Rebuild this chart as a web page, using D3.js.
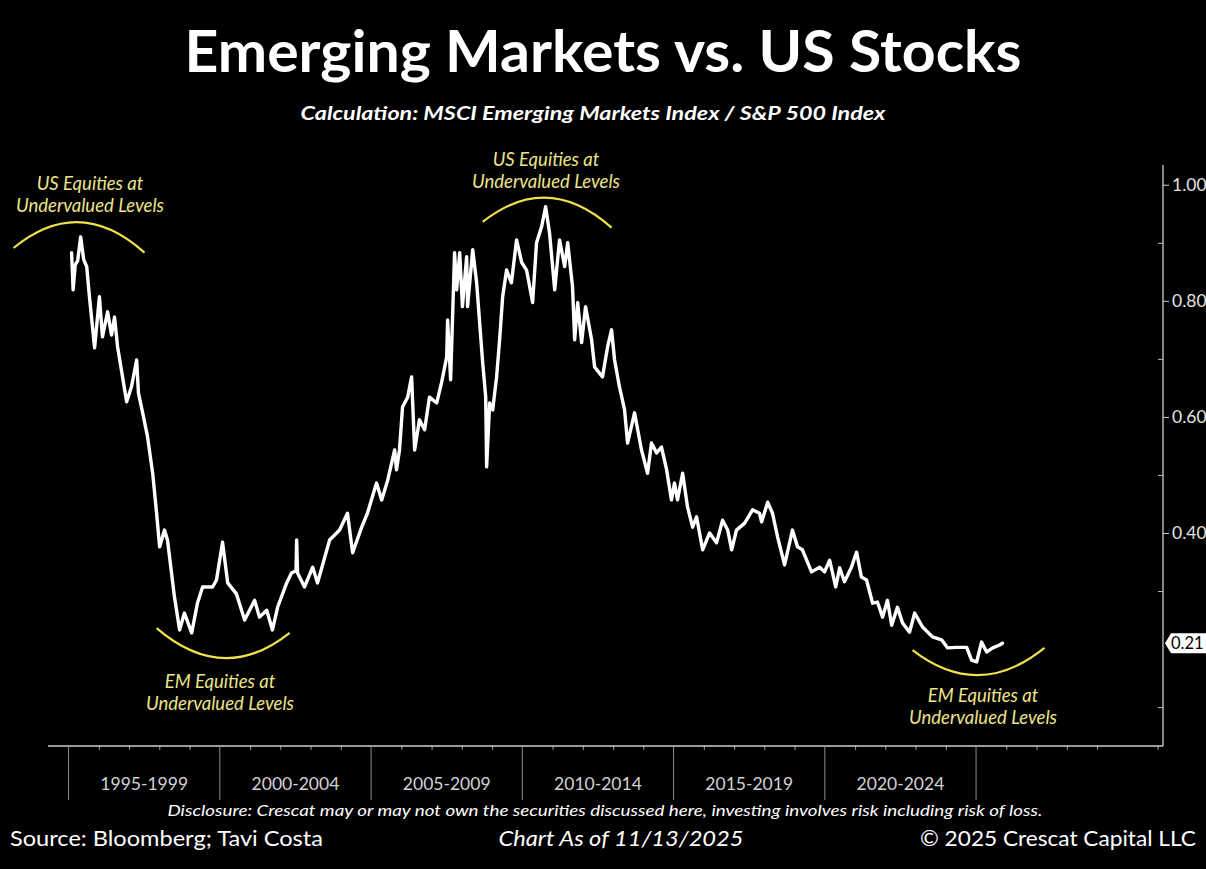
<!DOCTYPE html>
<html>
<head>
<meta charset="utf-8">
<script src="https://cdn.jsdelivr.net/npm/d3@7"></script>
<style>
  html, body { margin: 0; padding: 0; background: #000; }
  svg { display: block; }
</style>
</head>
<body>
<svg id="chart" width="1206" height="869"></svg>
<script>
// ---------------- DATA ----------------
const years = [
  1995.10,1995.15,1995.22,1995.30,1995.40,1995.50,1995.60,1995.69,1995.86,1996.02,
  1996.12,1996.29,1996.42,1996.52,1996.62,1996.92,1997.08,1997.25,1997.31,1997.45,
  1997.61,1997.78,1997.91,1998.01,1998.17,1998.27,1998.50,1998.67,1998.83,1999.07,
  1999.26,1999.43,1999.76,1999.89,2000.09,2000.26,2000.55,2000.82,2001.15,2001.31,
  2001.55,2001.74,2001.91,2002.21,2002.37,2002.52,2002.54,2002.57,2002.80,2003.07,
  2003.23,2003.63,2003.96,2004.22,2004.39,2004.69,2004.88,2005.18,2005.35,2005.55,
  2005.78,2005.84,2005.94,2006.04,2006.21,2006.34,2006.44,2006.60,2006.77,2006.93,
  2007.17,2007.33,2007.50,2007.53,2007.63,2007.76,2007.83,2007.93,2008.02,2008.16,
  2008.19,2008.36,2008.49,2008.59,2008.69,2008.79,2008.82,2008.92,2009.02,2009.15,
  2009.25,2009.35,2009.48,2009.64,2009.81,2009.98,2010.14,2010.34,2010.47,2010.64,
  2010.77,2010.90,2011.07,2011.23,2011.40,2011.50,2011.66,2011.73,2011.83,2011.96,
  2012.09,2012.29,2012.39,2012.65,2012.82,2012.95,2013.05,2013.21,2013.38,2013.48,
  2013.71,2013.94,2014.14,2014.27,2014.44,2014.60,2014.77,2014.93,2015.03,2015.13,
  2015.30,2015.46,2015.63,2015.76,2015.96,2016.19,2016.42,2016.62,2016.79,2016.92,
  2017.08,2017.35,2017.61,2017.84,2017.91,2018.11,2018.27,2018.44,2018.67,2018.93,
  2019.10,2019.26,2019.56,2019.83,2019.99,2020.16,2020.36,2020.49,2020.65,2020.88,
  2021.05,2021.21,2021.38,2021.58,2021.74,2021.91,2022.07,2022.21,2022.40,2022.57,
  2022.80,2022.97,2023.23,2023.56,2023.86,2024.06,2024.36,2024.69,2024.85,2025.02,
  2025.18,2025.35,2025.55,2025.78,2025.87
];
const ratio = [
  0.883,0.819,0.862,0.869,0.910,0.871,0.859,0.807,0.719,0.807,
  0.738,0.781,0.741,0.772,0.721,0.626,0.652,0.698,0.641,0.607,
  0.566,0.503,0.434,0.376,0.405,0.388,0.290,0.233,0.262,0.228,
  0.279,0.307,0.307,0.319,0.384,0.314,0.295,0.250,0.284,0.255,
  0.267,0.233,0.272,0.314,0.331,0.335,0.388,0.331,0.307,0.341,
  0.314,0.388,0.405,0.434,0.366,0.410,0.434,0.486,0.457,0.491,
  0.543,0.509,0.543,0.617,0.634,0.669,0.543,0.595,0.578,0.634,
  0.624,0.659,0.703,0.767,0.664,0.883,0.819,0.883,0.790,0.876,
  0.790,0.888,0.831,0.762,0.693,0.634,0.514,0.624,0.612,0.669,
  0.733,0.807,0.853,0.831,0.905,0.866,0.853,0.797,0.900,0.928,
  0.962,0.917,0.819,0.905,0.859,0.900,0.824,0.733,0.797,0.728,
  0.790,0.733,0.686,0.669,0.721,0.750,0.698,0.652,0.612,0.555,
  0.607,0.543,0.503,0.555,0.538,0.548,0.509,0.457,0.486,0.457,
  0.503,0.445,0.410,0.428,0.371,0.400,0.383,0.422,0.405,0.371,
  0.405,0.417,0.440,0.434,0.419,0.453,0.434,0.393,0.345,0.405,
  0.376,0.371,0.333,0.341,0.333,0.353,0.307,0.340,0.316,0.341,
  0.367,0.324,0.319,0.279,0.281,0.255,0.284,0.241,0.272,0.245,
  0.229,0.262,0.238,0.221,0.216,0.202,0.203,0.203,0.181,0.178,
  0.212,0.195,0.202,0.207,0.210
];
const lastValueLabel = "0.21";
const yMajorTicks = [0.40, 0.60, 0.80, 1.00];
const yMinorTicks = [0.10, 0.30, 0.50, 0.70, 0.90];
const periodStarts = [1995, 2000, 2005, 2010, 2015, 2020, 2025];
const periodLabels = ["1995-1999", "2000-2004", "2005-2009", "2010-2014", "2015-2019", "2020-2024", ""];
const yearTicks = d3.range(1995, 2032);

// annotations in data coordinates: [start, control, end] as [year, value]
const arcs = [
  [[1993.18, 0.891], [1995.36, 0.984], [1997.51, 0.883]],
  [[2008.69, 0.936], [2010.83, 1.024], [2012.95, 0.926]],
  [[1997.91, 0.236], [2000.12, 0.137], [2002.31, 0.228]],
  [[2022.90, 0.198], [2025.08, 0.110], [2027.26, 0.202]]
];
const annoTexts = [
  { lines: ["US Equities at", "Undervalued Levels"], x: 90,  y: 190 },
  { lines: ["US Equities at", "Undervalued Levels"], x: 546, y: 166 },
  { lines: ["EM Equities at", "Undervalued Levels"], x: 220, y: 688 },
  { lines: ["EM Equities at", "Undervalued Levels"], x: 983, y: 702 }
];

// ---------------- LAYOUT ----------------
const W = 1206, H = 869;
const plot = { left: 48, right: 1163, top: 165, bottom: 746 };
const FONT = "Lato, 'Open Sans', sans-serif";
const YELLOW_LINE = "#efe24a";
const YELLOW_TEXT = "#ece48a";

const svg = d3.select("#chart");
svg.append("rect").attr("width", W).attr("height", H).attr("fill", "#000");

const x = d3.scaleLinear().domain([1994.32, 1994.32 + (plot.right - plot.left) / 30.25]).range([plot.left, plot.right]);
const y = d3.scaleLinear().domain([0.033, 1.034]).range([plot.bottom, plot.top]);

function fitWidth(sel, target) {
  const w = sel.node().getComputedTextLength();
  if (Math.abs(w - target) > 1.5) {
    sel.attr("textLength", target).attr("lengthAdjust", "spacingAndGlyphs");
  }
  return sel;
}

// ---------------- TITLES ----------------
fitWidth(svg.append("text")
  .attr("x", 603).attr("y", 72).attr("text-anchor", "middle")
  .attr("fill", "#fff").attr("font-family", FONT).attr("font-weight", 700)
  .attr("font-size", 57).text("Emerging Markets vs. US Stocks"), 837);

fitWidth(svg.append("text")
  .attr("x", 593).attr("y", 120).attr("text-anchor", "middle")
  .attr("fill", "#fff").attr("font-family", FONT).attr("font-weight", 700)
  .attr("font-style", "italic").attr("font-size", 19)
  .text("Calculation: MSCI Emerging Markets Index / S&P 500 Index"), 585);

// ---------------- X AXIS ----------------
const gx = svg.append("g").attr("transform", `translate(0,${plot.bottom})`)
  .call(d3.axisBottom(x).tickValues(yearTicks.filter(d => d % 5 !== 0)).tickSize(4).tickFormat(""));
gx.select(".domain").remove();
gx.selectAll(".tick line").attr("stroke", "#9a9a9a").attr("stroke-width", 1);

svg.append("line")
  .attr("x1", plot.left).attr("x2", plot.right)
  .attr("y1", plot.bottom).attr("y2", plot.bottom)
  .attr("stroke", "#cfcfcf").attr("stroke-width", 1.3);

svg.selectAll(".sep").data(periodStarts).enter().append("line")
  .attr("x1", d => x(d)).attr("x2", d => x(d))
  .attr("y1", plot.bottom).attr("y2", 800)
  .attr("stroke", "#8a8a8a").attr("stroke-width", 1);

svg.selectAll(".plabel").data(periodStarts).enter().append("text")
  .attr("x", d => x(d + 2.5)).attr("y", 790)
  .attr("text-anchor", "middle").attr("fill", "#d2d2d2")
  .attr("font-family", FONT).attr("font-size", 17.5)
  .text((d, i) => periodLabels[i]);

// ---------------- Y AXIS (right) ----------------
svg.append("line")
  .attr("x1", plot.right).attr("x2", plot.right)
  .attr("y1", plot.top).attr("y2", plot.bottom)
  .attr("stroke", "#cfcfcf").attr("stroke-width", 1.3);

const gyMinor = svg.append("g").attr("transform", `translate(${plot.right},0)`)
  .call(d3.axisRight(y).tickValues(yMinorTicks).tickSize(-5).tickFormat(""));
gyMinor.select(".domain").remove();
gyMinor.selectAll(".tick line").attr("stroke", "#bdbdbd");

const gy = svg.append("g").attr("transform", `translate(${plot.right},0)`)
  .call(d3.axisRight(y).tickValues(yMajorTicks).tickSize(6).tickPadding(3).tickFormat(d3.format(".2f")));
gy.select(".domain").remove();
gy.selectAll(".tick line").attr("stroke", "#cfcfcf");
gy.selectAll(".tick text").attr("fill", "#e2e2e2").attr("font-family", FONT).attr("font-size", 17.5);

// ---------------- LINE ----------------
const pts = years.map((d, i) => [d, ratio[i]]);
svg.append("path").datum(pts)
  .attr("fill", "none").attr("stroke", "#fff").attr("stroke-width", 3.4)
  .attr("stroke-linejoin", "round").attr("stroke-linecap", "round")
  .attr("d", d3.line().x(d => x(d[0])).y(d => y(d[1])));

// last value tag
const lastY = y(ratio[ratio.length - 1]);
const tagX = plot.right + 2;
svg.append("path")
  .attr("d", `M${tagX},${lastY} L${tagX + 6},${lastY - 10} L${W},${lastY - 10} L${W},${lastY + 10} L${tagX + 6},${lastY + 10} Z`)
  .attr("fill", "#fff");
svg.append("text")
  .attr("x", tagX + 6).attr("y", lastY + 6)
  .attr("fill", "#000").attr("font-family", FONT).attr("font-size", 16.5)
  .text(lastValueLabel);

// ---------------- ANNOTATIONS ----------------
svg.selectAll(".arc").data(arcs).enter().append("path")
  .attr("fill", "none").attr("stroke", YELLOW_LINE).attr("stroke-width", 2.2)
  .attr("d", a => {
    const p = d3.path();
    p.moveTo(x(a[0][0]), y(a[0][1]));
    p.quadraticCurveTo(x(a[1][0]), y(a[1][1]), x(a[2][0]), y(a[2][1]));
    return p.toString();
  });

annoTexts.forEach(t => {
  t.lines.forEach((ln, i) => {
    svg.append("text")
      .attr("x", t.x).attr("y", t.y + i * 22)
      .attr("text-anchor", "middle").attr("fill", YELLOW_TEXT)
      .attr("font-family", FONT).attr("font-style", "italic").attr("font-size", 18.5)
      .text(ln);
  });
});

// ---------------- FOOTER ----------------
fitWidth(svg.append("text")
  .attr("x", 605).attr("y", 816).attr("text-anchor", "middle")
  .attr("fill", "#fff").attr("font-family", FONT).attr("font-style", "italic")
  .attr("font-size", 16)
  .text("Disclosure: Crescat may or may not own the securities discussed here, investing involves risk including risk of loss."), 875);

fitWidth(svg.append("text")
  .attr("x", 10).attr("y", 846)
  .attr("fill", "#fff").attr("font-family", FONT).attr("font-size", 22)
  .text("Source: Bloomberg; Tavi Costa"), 313);

fitWidth(svg.append("text")
  .attr("x", 621).attr("y", 846).attr("text-anchor", "middle")
  .attr("fill", "#fff").attr("font-family", FONT).attr("font-style", "italic").attr("font-size", 22)
  .text("Chart As of 11/13/2025"), 245);

fitWidth(svg.append("text")
  .attr("x", 1196).attr("y", 846).attr("text-anchor", "end")
  .attr("fill", "#fff").attr("font-family", FONT).attr("font-size", 22)
  .text("© 2025 Crescat Capital LLC"), 276);
</script>
</body>
</html>
